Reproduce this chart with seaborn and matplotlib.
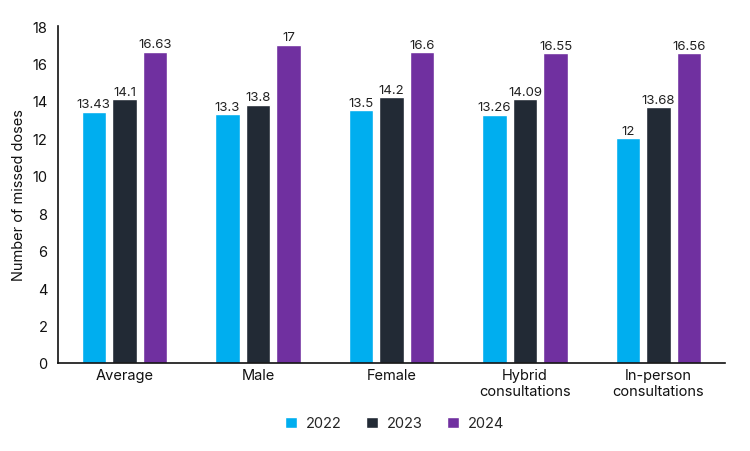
import matplotlib
matplotlib.use("Agg")
import matplotlib.pyplot as plt
import seaborn as sns
import pandas as pd

categories = ["Average", "Male", "Female", "Hybrid\nconsultations", "In-person\nconsultations"]
years = ["2022", "2023", "2024"]
v2022 = [13.43, 13.3, 13.5, 13.26, 12]
v2023 = [14.1, 13.8, 14.2, 14.09, 13.68]
v2024 = [16.63, 17, 16.6, 16.55, 16.56]
colors = ["#00AEEF", "#222A35", "#7030A0"]

rows = []
for y, vals in zip(years, [v2022, v2023, v2024]):
    for c, v in zip(categories, vals):
        rows.append({"cat": c, "year": y, "value": v})
df = pd.DataFrame(rows)

sns.set_theme(style="white")
plt.rcParams["font.family"] = ["Inter", "DejaVu Sans"]

fig = plt.figure(figsize=(7.5, 4.52), dpi=100)
ax = fig.add_axes([0.077, 0.195, 0.89, 0.745])
sns.barplot(data=df, x="cat", y="value", hue="year", palette=colors,
            width=0.69, gap=0.2, ax=ax, saturation=1, legend=True)

for cont in ax.containers:
    ax.bar_label(cont, labels=[f"{v:g}" for v in cont.datavalues],
                 fontsize=9.5, padding=1, color="#222222")

ax.set_ylim(0, 18)
ax.set_yticks(range(0, 19, 2))
ax.set_xlim(-0.5, 4.5)
ax.set_xlabel("")
ax.set_ylabel("Number of missed doses", fontsize=10.5, color="#111111")
ax.tick_params(axis="both", labelsize=10.5, colors="#111111", length=0)
ax.tick_params(axis="y", length=4, color="#111111")
for s in ["top", "right"]:
    ax.spines[s].set_visible(False)
for s in ["left", "bottom"]:
    ax.spines[s].set_color("#111111")
    ax.spines[s].set_linewidth(1.2)

ax.legend(loc="upper center", bbox_to_anchor=(0.505, -0.12), ncol=3, frameon=False,
          fontsize=10.5, handlelength=0.8, handleheight=0.8, columnspacing=1.7,
          handletextpad=0.6)

fig.savefig("out.png", dpi=100)
